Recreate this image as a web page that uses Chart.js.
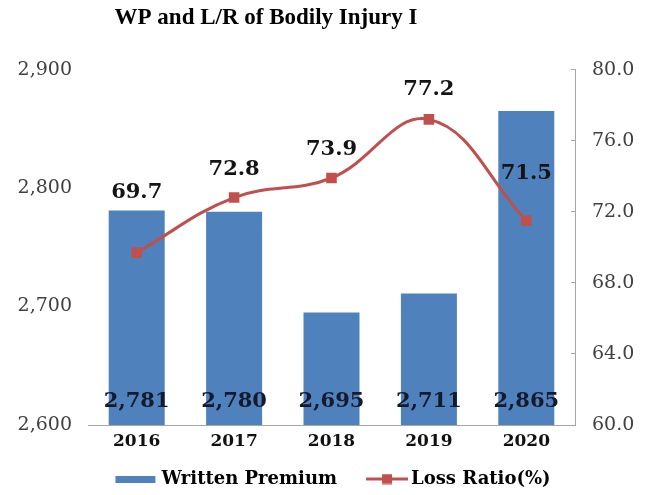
<!DOCTYPE html>
<html><head><meta charset="utf-8">
<script src="https://cdn.jsdelivr.net/npm/chart.js@4.4.1/dist/chart.umd.min.js"></script>
<style>html,body{margin:0;padding:0;background:#fff}#wrap{width:646px;height:495px}</style>
</head><body><div id="wrap"><canvas id="c" width="646" height="495"></canvas></div>
<script>
const categories = ['2016', '2017', '2018', '2019', '2020'];
const writtenPremium = [2781, 2780, 2695, 2711, 2865];
const lossRatio = [69.7, 72.8, 73.9, 77.2, 71.5];
const leftTickValues = [2600, 2700, 2800, 2900];
const rightTickValues = [60, 64, 68, 72, 76, 80];
const lineLabelLift = [60, 28, 28, 30, 47];

const BLUE = '#4F81BD';
const RED = '#C0504D';
const SERIF = '"DejaVu Serif", "Liberation Serif", serif';
const ICON_W = 57;

function makeBarIcon() {
  const c = document.createElement('canvas');
  c.width = ICON_W + 12; c.height = 7;
  const g = c.getContext('2d');
  g.fillStyle = BLUE; g.fillRect(c.width - 43, 0, 40, 7);
  return c;
}
function makeLineIcon() {
  const c = document.createElement('canvas');
  c.width = ICON_W + 12; c.height = 11;
  const g = c.getContext('2d');
  const x0 = c.width - 42;
  g.strokeStyle = RED; g.lineWidth = 3;
  g.beginPath(); g.moveTo(x0, 5.5); g.lineTo(c.width, 5.5); g.stroke();
  g.fillStyle = RED; g.fillRect(x0 + 16, 0.5, 10, 10);
  return c;
}

const titleShift = {
  id: 'titleShift',
  afterLayout(chart) {
    const tb = chart.titleBlock;
    if (tb) { tb.left = 0; tb.right = 532; }
  }
};

const dataLabels = {
  id: 'dataLabels',
  afterDatasetsDraw(chart) {
    const ctx = chart.ctx;
    ctx.save();
    ctx.textAlign = 'center';
    ctx.textBaseline = 'middle';
    ctx.font = 'bold 21px ' + SERIF;
    const barMeta = chart.getDatasetMeta(0);
    barMeta.data.forEach((el, i) => {
      ctx.fillStyle = '#141a2c';
      ctx.fillText(writtenPremium[i].toLocaleString('en-US'), el.x, chart.chartArea.bottom - 23);
    });
    const lineMeta = chart.getDatasetMeta(1);
    lineMeta.data.forEach((el, i) => {
      ctx.fillStyle = '#141414';
      ctx.fillText(lossRatio[i].toFixed(1), el.x, el.y - lineLabelLift[i]);
    });
    ctx.restore();
  }
};

new Chart(document.getElementById('c'), {
  data: {
    labels: categories,
    datasets: [
      {
        type: 'bar', label: 'Written Premium', data: writtenPremium,
        backgroundColor: BLUE, yAxisID: 'y', order: 2,
        categoryPercentage: 1.0, barPercentage: 0.575
      },
      {
        type: 'line', label: 'Loss Ratio(%)', data: lossRatio,
        borderColor: RED, backgroundColor: RED, borderWidth: 3,
        pointStyle: 'rect', pointRadius: 7.5, pointBackgroundColor: RED, pointBorderColor: RED,
        pointBorderWidth: 0,
        tension: 0.4, yAxisID: 'y1', order: 1
      }
    ]
  },
  options: {
    responsive: false,
    devicePixelRatio: 1,
    animation: false,
    layout: { padding: { left: 0, right: 0, top: 0, bottom: -3 } },
    plugins: {
      title: {
        display: true, text: 'WP and L/R of Bodily Injury I',
        color: '#000', font: { family: '"Liberation Serif", serif', size: 23, weight: 'bold' },
        padding: { top: 4, bottom: 38 }
      },
      legend: {
        position: 'bottom',
        labels: {
          color: '#111', font: { family: SERIF, size: 18, weight: 'bold' },
          usePointStyle: true, pointStyleWidth: ICON_W, padding: 8,
          generateLabels(chart) {
            return chart.data.datasets.map((ds, i) => ({
              text: ds.label, datasetIndex: i, hidden: false,
              pointStyle: i === 0 ? makeBarIcon() : makeLineIcon(),
              fillStyle: i === 0 ? BLUE : RED, strokeStyle: 'rgba(0,0,0,0)', lineWidth: 0
            }));
          }
        }
      },
      tooltip: { enabled: false }
    },
    scales: {
      x: {
        grid: { display: false, drawTicks: false },
        border: { display: true, color: '#a6a6a6', width: 1 },
        ticks: { color: '#111', font: { family: SERIF, size: 17, weight: 'bold' }, padding: 6 },
        afterFit(s) { s.height = 37; }
      },
      y: {
        position: 'left', min: 2600, max: 2900,
        grid: { display: false, drawTicks: false }, border: { display: false },
        afterBuildTicks(s) { s.ticks = leftTickValues.map(v => ({ value: v })); },
        ticks: {
          color: '#404040', font: { family: SERIF, size: 19 }, padding: 16,
          callback: v => v.toLocaleString('en-US')
        },
        afterFit(s) { s.width = 88; }
      },
      y1: {
        position: 'right', min: 60, max: 80,
        grid: { display: true, drawOnChartArea: false, color: '#a6a6a6', tickLength: -4 },
        border: { display: true, color: '#a6a6a6', width: 1 },
        afterBuildTicks(s) { s.ticks = rightTickValues.map(v => ({ value: v })); },
        ticks: {
          color: '#404040', font: { family: SERIF, size: 19 }, padding: 21,
          callback: v => v.toFixed(1)
        },
        afterFit(s) { s.width = 71; }
      }
    }
  },
  plugins: [dataLabels, titleShift]
});
</script>
</body></html>
